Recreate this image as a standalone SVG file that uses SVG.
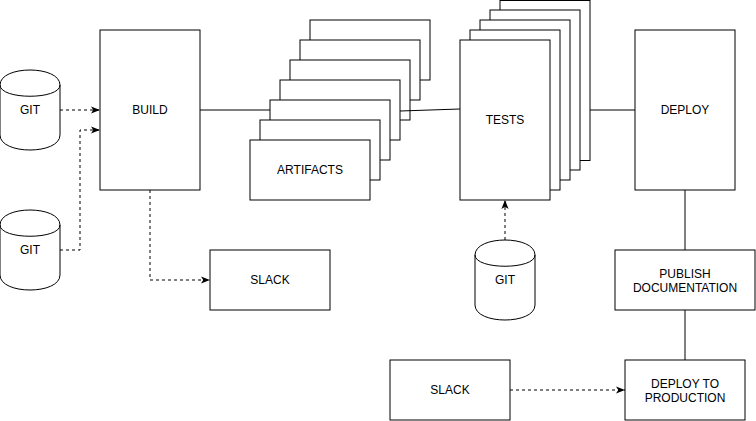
<svg xmlns="http://www.w3.org/2000/svg" width="756" height="421" viewBox="0 0 756 421">
<style>
.b{fill:#fff;stroke:#000;stroke-width:1}
.t{font-family:"Liberation Sans",Arial,Helvetica,sans-serif;font-size:12px;fill:#000;text-anchor:middle}
.l{fill:none;stroke:#000;stroke-width:1}
.d{fill:none;stroke:#000;stroke-width:1;stroke-dasharray:3 3;marker-end:url(#a)}
</style>
<defs>
<marker id="a" viewBox="0 0 10 8" markerUnits="userSpaceOnUse" markerWidth="9" markerHeight="7.2" refX="10" refY="4" orient="auto">
<path d="M0,0 L10,4 L0,8 L2.5,4 Z" fill="#000"/>
</marker>
</defs>
<rect width="756" height="421" fill="#fff"/>
<g id="connectors">
<path class="l" d="M200,110 L270,110"/>
<path class="d" d="M60,110 L100,110"/>
<path class="d" d="M60,250 L80,250 L80,130 L100,130"/>
<path class="d" d="M150,190 L150,280 L210,280"/>
<path class="d" d="M505,240 L505,200"/>
<path class="l" d="M590,110 L635,110"/>
<path class="l" d="M685,190 L685,250"/>
<path class="l" d="M685,310 L685,360"/>
<path class="d" d="M510,390 L625,390"/>
</g>
<g id="git1">
<path class="b" d="M0,85 C0,65 60,65 60,85 L60,135 C60,155 0,155 0,135 Z"/>
<path class="l" d="M0,85 C0,100 60,100 60,85"/>
<text class="t" x="30" y="114">GIT</text>
</g>
<g id="git2">
<path class="b" d="M0,225 C0,205 60,205 60,225 L60,275 C60,295 0,295 0,275 Z"/>
<path class="l" d="M0,225 C0,240 60,240 60,225"/>
<text class="t" x="30" y="254">GIT</text>
</g>
<g id="build">
<rect class="b" x="100" y="30" width="100" height="160"/>
<text class="t" x="150" y="114">BUILD</text>
</g>
<g id="slack1">
<rect class="b" x="210" y="250" width="120" height="60"/>
<text class="t" x="270" y="284">SLACK</text>
</g>
<g id="artifacts">
<rect class="b" x="310" y="20" width="120" height="60"/>
<rect class="b" x="300" y="40" width="120" height="60"/>
<rect class="b" x="290" y="60" width="120" height="60"/>
<rect class="b" x="280" y="80" width="120" height="60"/>
<rect class="b" x="270" y="100" width="120" height="60"/>
<rect class="b" x="260" y="120" width="120" height="60"/>
<rect class="b" x="250" y="140" width="120" height="60"/>
<text class="t" x="310" y="174">ARTIFACTS</text>
</g>
<g id="conn2">
<path class="l" d="M400,111 L460,109" stroke="#555"/>
</g>
<g id="tests">
<rect class="b" x="500" y="0.5" width="90" height="160"/>
<rect class="b" x="490" y="10" width="90" height="160"/>
<rect class="b" x="480" y="20" width="90" height="160"/>
<rect class="b" x="470" y="30" width="90" height="160"/>
<rect class="b" x="460" y="40" width="90" height="160"/>
<text class="t" x="505" y="124">TESTS</text>
</g>
<g id="git3">
<path class="b" d="M475,255 C475,235 535,235 535,255 L535,305 C535,325 475,325 475,305 Z"/>
<path class="l" d="M475,255 C475,270 535,270 535,255"/>
<text class="t" x="505" y="284">GIT</text>
</g>
<g id="deploy">
<rect class="b" x="635" y="30" width="100" height="160"/>
<text class="t" x="685" y="114">DEPLOY</text>
</g>
<g id="publish">
<rect class="b" x="615" y="250" width="140" height="60"/>
<text class="t" x="685" y="278">PUBLISH</text>
<text class="t" x="685" y="292">DOCUMENTATION</text>
</g>
<g id="slack2">
<rect class="b" x="390" y="360" width="120" height="60"/>
<text class="t" x="450" y="394">SLACK</text>
</g>
<g id="prod">
<rect class="b" x="625" y="360" width="120" height="60"/>
<text class="t" x="685" y="388">DEPLOY TO</text>
<text class="t" x="685" y="402">PRODUCTION</text>
</g>
</svg>
